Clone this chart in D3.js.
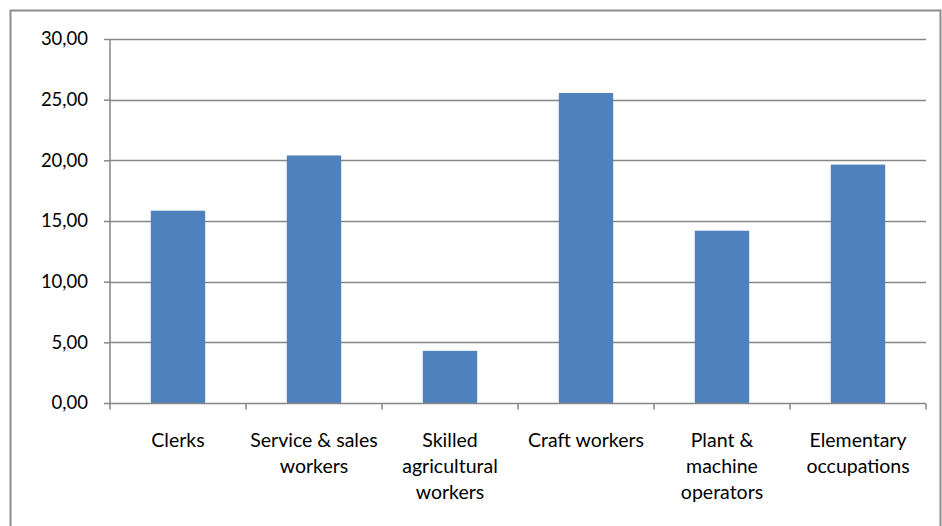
<!DOCTYPE html>
<html>
<head>
<meta charset="utf-8">
<script src="https://cdn.jsdelivr.net/npm/d3@7/dist/d3.min.js"></script>
<style>
body { margin: 0; background: #fff; }
text { font-family: Lato, "Open Sans", sans-serif; fill: #000; }
</style>
</head>
<body>
<svg id="svg"></svg>
<script>
var categories = [
	["Clerks"],
	["Service & sales", "workers"],
	["Skilled", "agricultural", "workers"],
	["Craft workers"],
	["Plant &", "machine", "operators"],
	["Elementary", "occupations"]
];
var values = [15.85, 20.4, 4.3, 25.55, 14.2, 19.65];
var yTicks = [0, 5, 10, 15, 20, 25, 30];

var width = 942, height = 526;
var margin = {top: 39, bottom: 123, right: 16, left: 110};

var svg = d3.select("#svg")
	.attr("width", width)
	.attr("height", height);

// chart frame
svg.append("rect")
	.attr("x", 10.5)
	.attr("y", 10.5)
	.attr("width", 930)
	.attr("height", 530)
	.attr("fill", "none")
	.attr("stroke", "#8c8c8c")
	.attr("stroke-width", 2);

var keys = categories.map(function(d, i) { return i; });

var x = d3.scaleBand()
	.domain(keys)
	.range([margin.left, width - margin.right])
	.paddingInner(0.6)
	.paddingOuter(0.3);

var xTickScale = d3.scaleLinear()
	.domain([0, categories.length])
	.range([margin.left, width - margin.right]);

var y = d3.scaleLinear()
	.domain([0, 30])
	.range([height - margin.bottom, margin.top]);

// gridlines
svg.append("g")
	.selectAll("line")
	.data(yTicks.slice(1))
	.enter()
	.append("line")
	.attr("x1", margin.left)
	.attr("x2", width - margin.right)
	.attr("y1", function(d) { return Math.round(y(d)) + 0.5; })
	.attr("y2", function(d) { return Math.round(y(d)) + 0.5; })
	.attr("stroke", "#868686")
	.attr("stroke-width", 1.5);

// bars
svg.append("g")
	.selectAll("rect")
	.data(values)
	.enter()
	.append("rect")
	.attr("x", function(d, i) { return x(i); })
	.attr("y", function(d) { return y(d); })
	.attr("width", x.bandwidth())
	.attr("height", function(d) { return y(0) - y(d); })
	.attr("fill", "#4f81bd");

// y axis
var yAxis = d3.axisLeft(y)
	.tickValues(yTicks)
	.tickSize(6)
	.tickPadding(16)
	.tickFormat(function(d) { return d3.format(".2f")(d).replace(".", ","); });

var ya = svg.append("g")
	.attr("transform", "translate(" + margin.left + ",0)")
	.call(yAxis);
ya.selectAll("path, line").attr("stroke", "#868686").attr("stroke-width", 1.5);
ya.select(".domain").attr("d", "M0," + y(30) + "V" + y(0));
ya.selectAll("text").attr("font-size", 18.5).attr("font-family", "Lato, sans-serif");

// x axis
var xa = svg.append("g")
	.attr("transform", "translate(0," + (Math.round(y(0)) + 0.5) + ")");
xa.append("line")
	.attr("x1", margin.left)
	.attr("x2", width - margin.right)
	.attr("stroke", "#868686")
	.attr("stroke-width", 1.5);
xa.selectAll("line.tick")
	.data(d3.range(categories.length + 1))
	.enter()
	.append("line")
	.attr("class", "tick")
	.attr("x1", function(d) { return xTickScale(d); })
	.attr("x2", function(d) { return xTickScale(d); })
	.attr("y1", 0)
	.attr("y2", 6)
	.attr("stroke", "#868686")
	.attr("stroke-width", 1.5);

var labels = xa.selectAll("text")
	.data(categories)
	.enter()
	.append("text")
	.attr("text-anchor", "middle")
	.attr("font-size", 19.5)
	.attr("transform", function(d, i) { return "translate(" + (x(i) + x.bandwidth() / 2) + ",43)"; });

labels.selectAll("tspan")
	.data(function(d) { return d; })
	.enter()
	.append("tspan")
	.attr("x", 0)
	.attr("y", function(d, i) { return i * 26; })
	.text(function(d) { return d; });
</script>
</body>
</html>
